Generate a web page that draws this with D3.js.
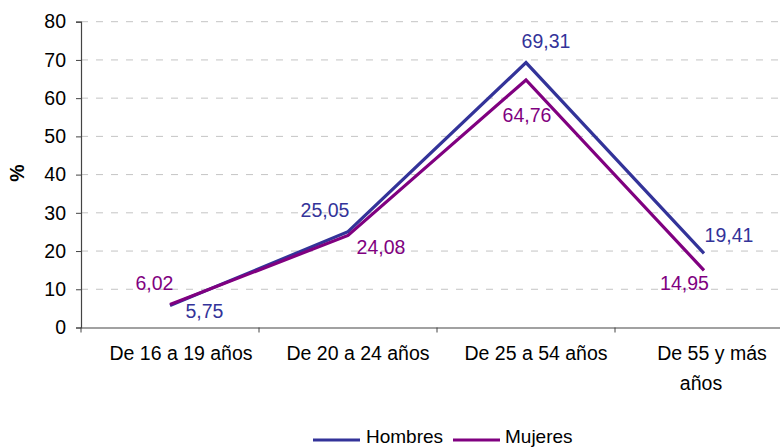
<!DOCTYPE html>
<html>
<head>
<meta charset="utf-8">
<script src="https://cdn.jsdelivr.net/npm/d3@7"></script>
<style>
  html, body { margin: 0; padding: 0; background: #fff; }
  svg { display: block; font-family: "Liberation Sans", Arial, sans-serif; }
</style>
</head>
<body>
<svg id="chart" width="780" height="447"></svg>
<script>
// Age groups on the horizontal axis
const categories = ["De 16 a 19 años", "De 20 a 24 años", "De 25 a 54 años", "De 55 y más años"];
// Category labels split into lines
const categoryLines = [["De 16 a 19 años"], ["De 20 a 24 años"], ["De 25 a 54 años"], ["De 55 y más", "años"]];
// Series values (%)
const hombres = [5.75, 25.05, 69.31, 19.41];
const mujeres = [6.02, 24.08, 64.76, 14.95];
// Value axis ticks
const yTicks = [0, 10, 20, 30, 40, 50, 60, 70, 80];

const fmt = v => v.toFixed(2).replace(".", ",");

const svg = d3.select("#chart");
const W = 780;
const plotLeft = 81, bandW = 178, plotTop = 21.7, plotBottom = 327.5;
const fontSize = 19.5;

const x = d3.scaleBand().domain(categories).range([plotLeft, plotLeft + bandW * categories.length]).padding(0);
const cx = c => x(c) + x.bandwidth() / 2;
const y = d3.scaleLinear().domain([0, 80]).range([plotBottom, plotTop]);

// Dashed gridlines
svg.append("g")
  .selectAll("line")
  .data(yTicks.filter(t => t > 0))
  .join("line")
  .attr("x1", plotLeft).attr("x2", W)
  .attr("y1", d => y(d)).attr("y2", d => y(d))
  .attr("stroke", "#c4c4c4")
  .attr("stroke-width", 1)
  .attr("stroke-dasharray", "7,8");

// Y axis
const yAxis = svg.append("g")
  .attr("transform", `translate(${plotLeft},0)`)
  .call(d3.axisLeft(y).tickValues(yTicks).tickSize(5).tickPadding(10).tickFormat(d3.format("d")));
yAxis.select(".domain").attr("stroke", "#444").attr("stroke-width", 1.2);
yAxis.selectAll(".tick line").attr("stroke", "#444");
yAxis.selectAll(".tick text")
  .attr("font-size", fontSize)
  .attr("fill", "#000")
  .attr("font-family", "Liberation Sans, Arial, sans-serif");

// X axis
const xAxis = svg.append("g")
  .attr("transform", `translate(0,${plotBottom})`)
  .call(d3.axisBottom(x).tickSize(0).tickFormat(""));
xAxis.select(".domain").attr("stroke", "#444").attr("stroke-width", 1.2);
xAxis.selectAll(".tick").remove();
// Category separators
svg.append("g")
  .selectAll("line")
  .data(categories)
  .join("line")
  .attr("x1", d => x(d)).attr("x2", d => x(d))
  .attr("y1", plotBottom).attr("y2", plotBottom + 5)
  .attr("stroke", "#444");

// Category labels
const lineOffsets = [[11], [10], [10], [8, -3]];
categories.forEach((c, i) => {
  categoryLines[i].forEach((txt, j) => {
    svg.append("text")
      .attr("x", cx(c) + lineOffsets[i][j])
      .attr("y", 360 + j * 30)
      .attr("text-anchor", "middle")
      .attr("font-size", fontSize)
      .attr("fill", "#000")
      .text(txt);
  });
});

// Axis title
svg.append("text")
  .attr("transform", "translate(24,173) rotate(-90)")
  .attr("text-anchor", "middle")
  .attr("font-size", fontSize)
  .attr("font-weight", "bold")
  .text("%");

// Series
const series = [
  { name: "Hombres", values: hombres, color: "#333399",
    offs: [[34.5, 12.5], [-23, -15], [20, -14.6], [25, -11.6]] },
  { name: "Mujeres", values: mujeres, color: "#800080",
    offs: [[-15.5, -14.5], [33, 18.5], [1, 41.8], [-19.5, 19.6]] }
];

const line = d3.line().x(d => cx(d.c)).y(d => y(d.v));

series.forEach(s => {
  const pts = categories.map((c, i) => ({ c, v: s.values[i] }));
  svg.append("path")
    .datum(pts)
    .attr("d", line)
    .attr("fill", "none")
    .attr("stroke", s.color)
    .attr("stroke-width", 3.2)
    .attr("stroke-linejoin", "miter");
});

series.forEach(s => {
  categories.forEach((c, i) => {
    svg.append("text")
      .attr("x", cx(c) + s.offs[i][0])
      .attr("y", y(s.values[i]) + s.offs[i][1])
      .attr("text-anchor", "middle")
      .attr("font-size", fontSize)
      .attr("fill", s.color)
      .text(fmt(s.values[i]));
  });
});

// Legend
const legend = [
  { name: "Hombres", color: "#333399", x1: 313, x2: 360, tx: 366 },
  { name: "Mujeres", color: "#800080", x1: 453, x2: 500, tx: 505 }
];
legend.forEach(l => {
  svg.append("line")
    .attr("x1", l.x1).attr("x2", l.x2)
    .attr("y1", 440).attr("y2", 440)
    .attr("stroke", l.color).attr("stroke-width", 3.2);
  svg.append("text")
    .attr("x", l.tx).attr("y", 443)
    .attr("font-size", 19)
    .attr("fill", "#000")
    .text(l.name);
});
</script>
</body>
</html>
